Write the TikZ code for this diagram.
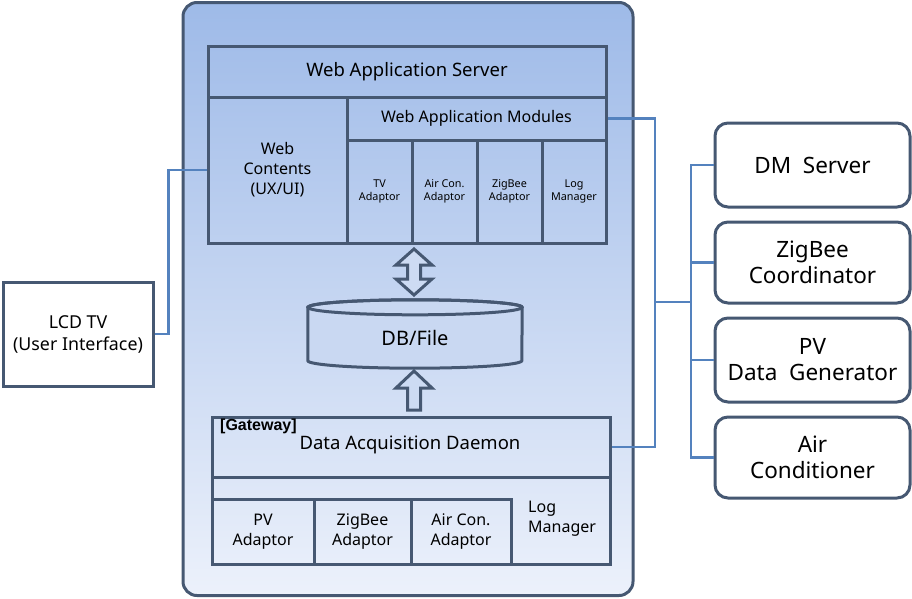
\documentclass[tikz,border=0pt]{standalone}
\usepackage{fontspec}
\setmainfont{Noto Sans}
\newfontfamily\tagfont{Liberation Sans}

\definecolor{edge}{RGB}{70,88,114}
\definecolor{wire}{RGB}{84,130,190}
\definecolor{paneltop}{RGB}{158,186,232}
\definecolor{panelbot}{RGB}{236,241,251}

\tikzset{
  panel/.style={draw=edge, line width=3pt, rounded corners=14pt,
    top color=paneltop, bottom color=panelbot, inner sep=0pt},
  box/.style={draw=edge, line width=3pt, inner sep=0pt, align=center},
  rbox/.style={draw=edge, line width=3pt, rounded corners=13pt, fill=white,
    inner sep=0pt, align=center, minimum width=195pt,
    font=\fontsize{22.5}{26}\selectfont},
  link/.style={draw=wire, line width=2.6pt},
  blk/.style={draw=edge, line width=3pt, fill=panelbot!60!paneltop, line join=miter},
  big/.style={font=\fontsize{18.5}{22}\selectfont},
  mid/.style={font=\fontsize{16}{20}\selectfont},
  tiny/.style={font=\fontsize{10.8}{13.5}\selectfont}
}

\begin{document}
\begin{tikzpicture}[x=1pt, y=-1pt]
	\useasboundingbox (0,0) rectangle (912,598);

	% host panel
	\node[panel, minimum width=450, minimum height=593] (host) at (408,299) {};

	% web application server
	\node[box, big, minimum width=398, minimum height=51] (was) at (407,71.5) {Web Application Server};
	\node[box, mid, minimum width=139, minimum height=146] (wc) at (277.5,170) {Web\\Contents\\(UX/UI)};
	\node[box, mid, minimum width=259, minimum height=43] (wam) at (476.5,118.5) {Web Application Modules};
	\node[box, tiny, minimum width=65, minimum height=103] (tva) at (379.5,191.5) {TV\\Adaptor};
	\node[box, tiny, minimum width=65, minimum height=103] (aca) at (444.5,191.5) {Air Con.\\Adaptor};
	\node[box, tiny, minimum width=65, minimum height=103] (zba) at (509.5,191.5) {ZigBee\\Adaptor};
	\node[box, tiny, minimum width=64, minimum height=103] (wlm) at (574,191.5) {Log\\Manager};

	% storage
	\node[minimum width=214, minimum height=68, inner sep=0pt] (db) at (415,334) {};
	\filldraw[draw=edge, line width=3pt, fill=panelbot!55!paneltop]
		([yshift=-7.5pt]db.north west) -- ([yshift=7.5pt]db.south west)
		arc[start angle=180, end angle=360, x radius=107pt, y radius=7.5pt]
		-- ([yshift=-7.5pt]db.north east)
		arc[start angle=0, end angle=180, x radius=107pt, y radius=7.5pt] -- cycle;
	\draw[edge, line width=3pt] ([yshift=-7.5pt]db.north) ellipse[x radius=107pt, y radius=7.5pt];
	\node[font=\fontsize{20}{24}\selectfont] at ([yshift=-4pt]db.center) {DB/File};

	% block arrows
	\filldraw[blk, shift={(414,272)}] (0,-23) -- (18,-7) -- (6.5,-7) -- (6.5,7) -- (18,7)
		-- (0,23) -- (-18,7) -- (-6.5,7) -- (-6.5,-7) -- (-18,-7) -- cycle;
	\filldraw[blk, shift={(414,371)}] (0,0) -- (18,17) -- (6.5,17) -- (6.5,39)
		-- (-6.5,39) -- (-6.5,17) -- (-18,17) -- cycle;

	% gateway
	\node[box, minimum width=398, minimum height=60] (gw) at (411,447) {};
	\node[big] at (410,445) {Data Acquisition Daemon};
	\node[anchor=west, font=\tagfont\bfseries\fontsize{16}{18}\selectfont, inner sep=0pt] at (220,426) {[Gateway]};
	\node[box, minimum width=398, minimum height=87] (gwl) at (411,520.5) {};
	\node[box, mid, minimum width=102, minimum height=65] (pva) at (263,531.5) {PV\\Adaptor};
	\node[box, mid, minimum width=97, minimum height=65] (zga) at (362.5,531.5) {ZigBee\\Adaptor};
	\node[box, mid, minimum width=100, minimum height=65] (aga) at (461,531.5) {Air Con.\\Adaptor};
	\node[mid, anchor=west, align=left, inner sep=0pt] (glm) at (528,519) {Log\\Manager};

	% outside devices
	\node[box, fill=white, font=\fontsize{17.8}{22}\selectfont, minimum width=150, minimum height=104] (lcd) at (78,334) {LCD TV\\(User Interface)};
	\node[rbox, minimum height=84] (dm) at (812.5,165) {DM~ Server};
	\node[rbox, minimum height=81] (zc) at (812.5,262.5) {ZigBee\\Coordinator};
	\node[rbox, minimum height=84] (pv) at (812.5,360) {PV\\Data~ Generator};
	\node[rbox, minimum height=81] (ac) at (812.5,457.5) {Air\\Conditioner};

	% wiring
	\coordinate (bus) at (655,302);
	\coordinate (hub) at (691,302);
	\draw[link] (lcd.east) -- ++(14,0) |- (wc.west);
	\draw[link] (wam.east) -| (bus) |- (gw.east);
	\draw[link] (bus) -- (hub);
	\draw[link] (dm.west) -| (hub) |- (ac.west);
	\draw[link] (zc.west) -- (zc.west -| hub);
	\draw[link] (pv.west) -- (pv.west -| hub);
\end{tikzpicture}
\end{document}
